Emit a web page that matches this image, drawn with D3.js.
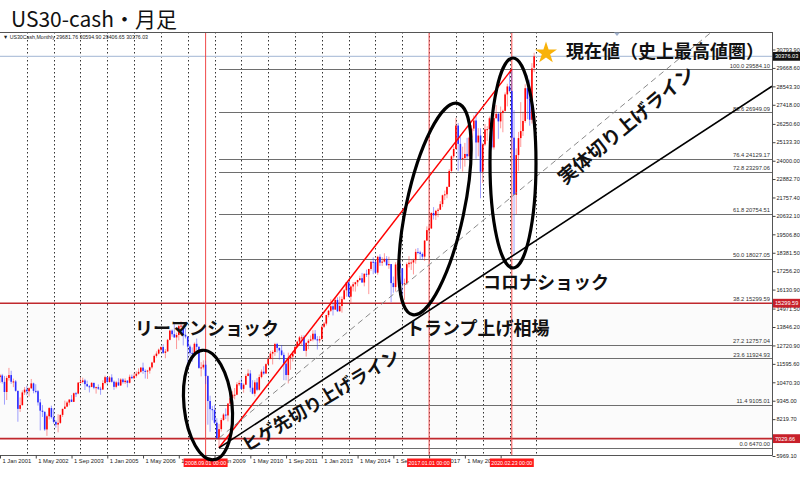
<!DOCTYPE html>
<html><head><meta charset="utf-8">
<script src="https://cdn.jsdelivr.net/npm/d3@7"></script>
<style>
html,body{margin:0;padding:0;background:#fff;}
svg{display:block;}
</style></head><body>
<script>
// ---------- DATA (monthly US30 candles, Jan 2001 .. Dec 2020) ----------
const firstYear = 2001;
const opens = [
 10787,10887,10495,9879,10735,10912,10502,10523,9950,8848,9075,9852,
 10022,9920,10106,10404,9946,9925,9243,8737,8664,7592,8397,8896,
 8342,8054,7891,7992,8480,8850,8985,9234,9416,9275,9801,9782,
 10454,10488,10584,10358,10226,10188,10435,10140,10174,10080,10027,10428,
 10783,10490,10766,10504,10193,10467,10275,10641,10482,10569,10440,10806,
 10718,10865,10993,11109,11367,11168,11150,11186,11381,11679,12081,12222,
 12463,12622,12269,12354,13063,13628,13409,13212,13358,13896,13930,13372,
 13265,12650,12266,12263,12820,12638,11350,11378,11544,10851,9325,8829,
 8776,8001,7063,7609,8168,8500,8447,9172,9496,9712,9713,10345,
 10428,10067,10325,10857,11009,10137,9774,10466,10015,10788,11118,11006,
 11578,11892,12226,12320,12811,12570,12414,12143,11614,10913,11955,12046,
 12218,12633,12952,13212,13214,12393,12880,13009,13091,13437,13096,13026,
 13104,13861,14054,14579,14840,15116,14910,15500,14810,15130,15546,16086,
 16577,15699,16322,16458,16581,16717,16827,16563,17098,17043,17391,17828,
 17823,17165,18133,17776,17841,18011,17620,17690,16528,16285,17664,17720,
 17425,16466,16517,17685,17774,17787,17930,18432,18401,18308,18142,19124,
 19763,19864,20812,20663,20941,21009,21350,21891,21948,22405,23377,24272,
 24719,26149,25029,24103,24163,24416,24271,25415,25965,26458,25116,25538,
 23327,24999,25916,25929,26593,24815,26600,26864,26403,26917,27046,28051,
 28538,28256,25409,21917,24346,25383,25813,26428,28430,27782,26502,29682
];
const highs = [
 10983,10984,10858,10863,11350,11175,10695,10610,9950,9545,9976,10180,
 10260,10160,10673,10450,10350,10000,9450,9077,8700,8500,8950,9043,
 8870,8150,8522,8500,8850,9350,9320,9430,9690,9840,9880,10460,
 10750,10753,10680,10570,10300,10480,10440,10210,10340,10200,10590,10870,
 10800,10850,10960,10580,10560,10720,10720,10720,10710,10600,10940,10940,
 11050,11140,11320,11400,11670,11260,11230,11420,11720,12160,12360,12530,
 12660,12795,12500,13120,13690,13700,14020,13500,13980,14198,13950,13780,
 13280,12770,12600,12900,13140,12660,11700,11810,11790,10890,9650,9030,
 9090,8280,7930,8290,8580,8880,9200,9620,9920,10120,10480,10580,
 10730,10410,10960,11260,11210,10600,10600,10720,10950,11250,11450,11630,
 12020,12390,12420,12880,12880,12590,12750,12290,11720,12280,12200,12360,
 12720,13010,13300,13340,13340,12900,13110,13330,13650,13660,13290,13290,
 13980,14150,14590,14890,15540,15340,15630,15660,15710,15710,16170,16590,
 16590,16400,16590,16610,16740,16980,17150,17120,17350,17400,17900,18100,
 17950,18200,18290,18110,18350,18180,18140,17690,16930,17800,17980,17900,
 17450,16800,17790,18170,17940,18020,18620,18670,18500,18400,19150,19990,
 20130,20850,21170,21000,21110,21530,21930,22180,22420,23490,24330,24880,
 26620,26310,25450,24860,25090,25400,25510,26170,26770,26950,25990,25980,
 25090,26240,26110,26700,26700,26910,27400,26960,27310,27120,28170,28700,
 29380,29584,27100,24760,25760,27580,27000,28670,29200,28950,29960,30595
];
const lows = [
 10434,10392,9106,9389,10575,10371,10175,9900,8062,8660,9050,9700,
 9680,9600,10060,9800,9800,9050,7532,8350,7500,7197,8200,8250,
 7950,7702,7416,7930,8350,8850,8950,9060,9270,9270,9570,9740,
 10400,10400,10000,10200,9850,10170,10050,9780,10000,9708,10010,10350,
 10350,10450,10450,10010,10100,10250,10250,10390,10370,10160,10400,10680,
 10650,10760,10930,11050,10990,10700,10680,11000,11300,11650,11980,12170,
 12350,12200,11940,12350,13030,13250,13180,12500,13030,13620,12720,13150,
 11630,12080,11730,12140,12440,11290,10830,11250,10360,7880,7450,8150,
 7910,7000,6470,7460,8120,8220,8080,9070,9250,9430,9680,10240,
 10030,9835,10300,10840,9870,9740,9610,9930,9960,10710,10930,10990,
 11550,11880,11560,12090,12290,11860,12090,10600,10590,10400,11230,11740,
 12210,12620,12730,12710,12390,12040,12490,12980,12970,13040,12470,12880,
 13100,13780,13940,14440,14760,14550,14900,14760,14780,14720,15500,15700,
 15690,15340,16020,16010,16330,16660,16560,16330,16900,15855,17280,17070,
 17140,17040,17580,17580,17790,17570,17400,15370,15940,16010,17290,17140,
 15450,15500,16410,17480,17330,17060,17710,18280,17990,17960,17880,19110,
 19680,19830,20410,20380,20550,20990,21170,21600,21710,22400,23240,24140,
 24700,23360,23510,23340,23640,24050,24000,25120,25810,24120,24270,21710,
 22640,24900,25210,25900,24680,24680,26560,25340,25980,25740,27000,27320,
 28170,24680,18250,20730,23360,24840,25520,26320,26540,26140,26270,29407
];
const closes = [
 10887,10495,9879,10735,10912,10502,10523,9950,8848,9075,9852,10022,
 9920,10106,10404,9946,9925,9243,8737,8664,7592,8397,8896,8342,
 8054,7891,7992,8480,8850,8985,9234,9416,9275,9801,9782,10454,
 10488,10584,10358,10226,10188,10435,10140,10174,10080,10027,10428,10783,
 10490,10766,10504,10193,10467,10275,10641,10482,10569,10440,10806,10718,
 10865,10993,11109,11367,11168,11150,11186,11381,11679,12081,12222,12463,
 12622,12269,12354,13063,13628,13409,13212,13358,13896,13930,13372,13265,
 12650,12266,12263,12820,12638,11350,11378,11544,10851,9325,8829,8776,
 8001,7063,7609,8168,8500,8447,9172,9496,9712,9713,10345,10428,
 10067,10325,10857,11009,10137,9774,10466,10015,10788,11118,11006,11578,
 11892,12226,12320,12811,12570,12414,12143,11614,10913,11955,12046,12218,
 12633,12952,13212,13214,12393,12880,13009,13091,13437,13096,13026,13104,
 13861,14054,14579,14840,15116,14910,15500,14810,15130,15546,16086,16577,
 15699,16322,16458,16581,16717,16827,16563,17098,17043,17391,17828,17823,
 17165,18133,17776,17841,18011,17620,17690,16528,16285,17664,17720,17425,
 16466,16517,17685,17774,17787,17930,18432,18401,18308,18142,19124,19763,
 19864,20812,20663,20941,21009,21350,21891,21948,22405,23377,24272,24719,
 26149,25029,24103,24163,24416,24271,25415,25965,26458,25116,25538,23327,
 24999,25916,25929,26593,24815,26600,26864,26403,26917,27046,28051,28538,
 28256,25409,21917,24346,25383,25813,26428,28430,27782,26502,29639,30376.03
];

const priceTicks = [30793.90,29668.60,28543.30,27418.00,26250.60,25133.30,24000.00,22882.70,
  21757.40,20632.10,19506.80,18381.50,17256.20,16130.90,14971.50,13846.20,12720.90,11595.60,
  10470.30,9345.00,8219.70,5969.10];
const timeTickMonths = [0,16,32,48,64,80,96,112,128,144,160,176,192,208,224];
const timeTickLabels = ["1 Jan 2001","1 May 2002","1 Sep 2003","1 Jan 2005","1 May 2006","1 Sep 2007",
  "1 Jan 2009","1 May 2010","1 Sep 2011","1 Jan 2013","1 May 2014","1 Sep 2015","1 Jan 2017",
  "1 May 2018","1 Sep 2019"];
const gridMonths = [12,24,36,48,60,72,84,96,108,120,132,144,156,168,180,192,204,216,228,240];

const fibLevels = ["0.0","11.4","23.6","27.2","38.2","50.0","61.8","72.8","76.4","88.6","100.0"];
const fibValues = [6470.00,9105.01,11924.93,12757.04,15299.59,18027.05,20754.51,23297.06,24129.17,26949.09,29584.10];
const fibStartMonth = 98;

const eventMonths = [92,192,229];
const eventLabels = ["2008.09.01 00:00","2017.01.01 00:00","2020.02.23 00:00"];

const markedPrices = [30376.03,15299.59,7029.66];
const markedLabels = ["30376.03","15299.59","7029.66"];

// trend lines anchors: [month index, price]
const redLine = [[98,6470.00],[229,29584.10]];
const wickLine = [[98,6470.00],[230,18250]];
const bodyLine = [[98,7063],[230,21917]];

const header = "\u25BC US30Cash,Monthly  29681.76 30594.90 29406.65 30376.03";

// ---------- DRAWING ----------
const W = 800, H = 480;
const L = 0, R = 772, T = 32, B = 455;
const JP = "'Noto Sans CJK JP','Noto Sans',sans-serif";
const SM = "'Liberation Sans',Arial,sans-serif";

const svg = d3.select("body").append("svg").attr("width",W).attr("height",H)
  .style("background","#fff");

const x = d3.scaleLinear().domain([0,229]).range([0,511.8]);
const y = d3.scaleLinear().domain([5969.1,30793.9]).range([456,49.5]);

svg.append("defs").append("clipPath").attr("id","plot")
  .append("rect").attr("x",L).attr("y",T).attr("width",R-L).attr("height",B-T);

// title
svg.append("text").attr("x",11).attr("y",27).attr("font-family",JP).attr("font-size",21)
  .attr("fill","#111").text("US30-cash\u30FB\u6708\u8DB3");

const plot = svg.append("g").attr("clip-path","url(#plot)");

// faint band
plot.append("rect").attr("x",L).attr("width",R-L)
  .attr("y",y(markedPrices[1])).attr("height",y(markedPrices[2])-y(markedPrices[1]))
  .attr("fill","#fbfbfb");

// vertical dotted grid
plot.selectAll("line.grid").data(gridMonths).join("line")
  .attr("x1",d=>Math.round(x(d))+0.5).attr("x2",d=>Math.round(x(d))+0.5)
  .attr("y1",T).attr("y2",B).attr("stroke","#000").attr("stroke-width",1)
  .attr("stroke-dasharray","1.5,2.5").attr("opacity",0.8);

// current price line
plot.append("line").attr("x1",L).attr("x2",R).attr("y1",y(markedPrices[0])).attr("y2",y(markedPrices[0]))
  .attr("stroke","#b4c4dc").attr("stroke-width",1.2);

// fib lines
plot.selectAll("line.fib").data(fibValues).join("line")
  .attr("x1",x(fibStartMonth)).attr("x2",R)
  .attr("y1",d=>Math.round(y(d))+0.5).attr("y2",d=>Math.round(y(d))+0.5)
  .attr("stroke","#6e6e6e").attr("stroke-width",1);
plot.selectAll("text.fib").data(fibValues).join("text")
  .attr("x",R-2).attr("y",d=>y(d)-1.8).attr("text-anchor","end")
  .attr("font-family",SM).attr("font-size",5.8).attr("fill","#333")
  .text((d,i)=>fibLevels[i]+" "+d.toFixed(2));

// red horizontal lines
plot.selectAll("line.hred").data(markedPrices.slice(1)).join("line")
  .attr("x1",L).attr("x2",R).attr("y1",d=>y(d)).attr("y2",d=>y(d))
  .attr("stroke","#c0282d").attr("stroke-width",1.6);

// red vertical event lines
plot.selectAll("line.ev").data(eventMonths).join("line")
  .attr("x1",d=>x(d)).attr("x2",d=>x(d)).attr("y1",T).attr("y2",B)
  .attr("stroke","#f04848").attr("stroke-width",1);

// candles
const idx = d3.range(closes.length);
const up = i => closes[i] >= opens[i];
const cg = plot.append("g");
cg.selectAll("line.wick").data(idx).join("line")
  .attr("x1",i=>x(i)).attr("x2",i=>x(i)).attr("y1",i=>y(highs[i])).attr("y2",i=>y(lows[i]))
  .attr("stroke",i=>up(i)?"#ff2020":"#3030ff").attr("stroke-width",1).attr("opacity",0.45);
cg.selectAll("rect.body").data(idx).join("rect")
  .attr("x",i=>x(i)-0.8).attr("width",1.6)
  .attr("y",i=>y(Math.max(opens[i],closes[i])))
  .attr("height",i=>Math.max(1,Math.abs(y(opens[i])-y(closes[i]))))
  .attr("fill",i=>up(i)?"#ff0000":"#2a2aff");

// trend lines
function extend(a,b,x2){
  const x1=x(a[0]),y1=y(a[1]),xb=x(b[0]),yb=y(b[1]);
  const s=(yb-y1)/(xb-x1); return [x2, y1+s*(x2-x1)];
}
plot.append("line").attr("x1",x(redLine[0][0])).attr("y1",y(redLine[0][1]))
  .attr("x2",x(redLine[1][0])).attr("y2",y(redLine[1][1]))
  .attr("stroke","#ff0000").attr("stroke-width",1.5);
const wEnd = extend(wickLine[0],wickLine[1],R);
plot.append("line").attr("x1",x(wickLine[0][0])).attr("y1",y(wickLine[0][1]))
  .attr("x2",wEnd[0]).attr("y2",wEnd[1]).attr("stroke","#000").attr("stroke-width",1.6);
const bEnd = extend(bodyLine[0],bodyLine[1],R);
plot.append("line").attr("x1",x(bodyLine[0][0])).attr("y1",y(bodyLine[0][1]))
  .attr("x2",bEnd[0]).attr("y2",bEnd[1]).attr("stroke","#8a8a8a").attr("stroke-width",1)
  .attr("stroke-dasharray","6,4");

// frame
svg.append("line").attr("x1",L).attr("x2",R+0.5).attr("y1",T+0.5).attr("y2",T+0.5).attr("stroke","#555");
svg.append("line").attr("x1",L).attr("x2",R+0.5).attr("y1",B+0.5).attr("y2",B+0.5).attr("stroke","#555");
svg.append("line").attr("x1",R+0.5).attr("x2",R+0.5).attr("y1",T).attr("y2",B+0.5).attr("stroke","#555");

// header
svg.append("text").attr("x",3).attr("y",38.5).attr("font-family",SM).attr("font-size",5.6)
  .attr("fill","#222").attr("textLength",145).attr("lengthAdjust","spacingAndGlyphs").text(header);
// chart shift marker
svg.append("path").attr("d","M614,32.5 L620,32.5 L617,36 Z").attr("fill","#9fb0cc");

// right price axis
const ya = svg.append("g").attr("transform",`translate(${R+0.5},0)`)
  .call(d3.axisRight(y).tickValues(priceTicks).tickSize(3).tickPadding(1).tickFormat(d3.format(".2f")));
ya.select(".domain").remove();
ya.selectAll("text").attr("font-family",SM).attr("font-size",5.6).attr("fill","#222");
ya.selectAll("line").attr("stroke","#444");

// bottom time axis
const xa = svg.append("g").attr("transform",`translate(0,${B+0.5})`)
  .call(d3.axisBottom(x).tickValues(timeTickMonths).tickSize(3).tickFormat((d,i)=>timeTickLabels[i]));
xa.select(".domain").remove();
xa.selectAll("text").attr("font-family",SM).attr("font-size",5.8).attr("fill","#222")
  .attr("text-anchor","start").attr("dx",2).attr("dy","0.3em");
xa.selectAll("line").attr("stroke","#444");

// marked price boxes
const mb = svg.selectAll("g.mb").data(markedPrices).join("g")
  .attr("transform",d=>`translate(${R+1},${y(d)})`);
mb.append("rect").attr("x",0).attr("y",-4.4).attr("width",27).attr("height",8.8)
  .attr("fill",(d,i)=>i===0?"#111":"#c8202a");
mb.append("text").attr("x",2).attr("y",2.1).attr("font-family",SM).attr("font-size",5.6)
  .attr("fill","#fff").text((d,i)=>markedLabels[i]);

// event boxes on time axis
const eb = svg.selectAll("g.eb").data(eventMonths).join("g")
  .attr("transform",d=>`translate(${x(d)},${B+3.5})`);
eb.append("rect").attr("x",-22).attr("y",0).attr("width",44).attr("height",8.5)
  .attr("fill","#ff1a1a");
eb.append("text").attr("x",0).attr("y",6.5).attr("text-anchor","middle").attr("font-family",SM)
  .attr("font-size",5.6).attr("fill","#fff").attr("textLength",41).attr("lengthAdjust","spacingAndGlyphs")
  .text((d,i)=>eventLabels[i]);

// ellipses
const ell = [
  {cx:208, cy:405, rx:24, ry:55, rot:-6},
  {cx:435, cy:209, rx:29, ry:108, rot:12},
  {cx:513, cy:163, rx:23, ry:105, rot:0}
];
svg.selectAll("ellipse.hand").data(ell).join("ellipse")
  .attr("cx",d=>d.cx).attr("cy",d=>d.cy).attr("rx",d=>d.rx).attr("ry",d=>d.ry)
  .attr("transform",d=>`rotate(${d.rot},${d.cx},${d.cy})`)
  .attr("fill","none").attr("stroke","#000").attr("stroke-width",3.2);

// annotation texts
const ann = svg.append("g").attr("font-family",JP).attr("font-weight",700).attr("fill","#111");
ann.append("text").attr("x",135).attr("y",327).attr("dominant-baseline","central")
  .attr("font-size",18).text("リーマンショック");
ann.append("text").attr("x",406).attr("y",327).attr("dominant-baseline","central")
  .attr("font-size",18).text("トランプ上げ相場");
ann.append("text").attr("x",483).attr("y",281).attr("dominant-baseline","central")
  .attr("font-size",18).text("コロナショック");
ann.append("text").attr("x",566).attr("y",50).attr("dominant-baseline","central")
  .attr("font-size",18).text("現在値（史上最高値圏）");
ann.append("text").attr("transform","translate(320,399) rotate(-31)")
  .attr("text-anchor","middle").attr("dominant-baseline","central")
  .attr("font-size",18).text("ヒゲ先切り上げライン");
ann.append("text").attr("transform","translate(625,124) rotate(-40)")
  .attr("text-anchor","middle").attr("dominant-baseline","central")
  .attr("font-size",19).text("実体切り上げライン");

// star
svg.append("path").attr("d",d3.symbol().type(d3.symbolStar).size(150)())
  .attr("transform","translate(546,53)").attr("fill","#f8b20a");
</script>
</body></html>
